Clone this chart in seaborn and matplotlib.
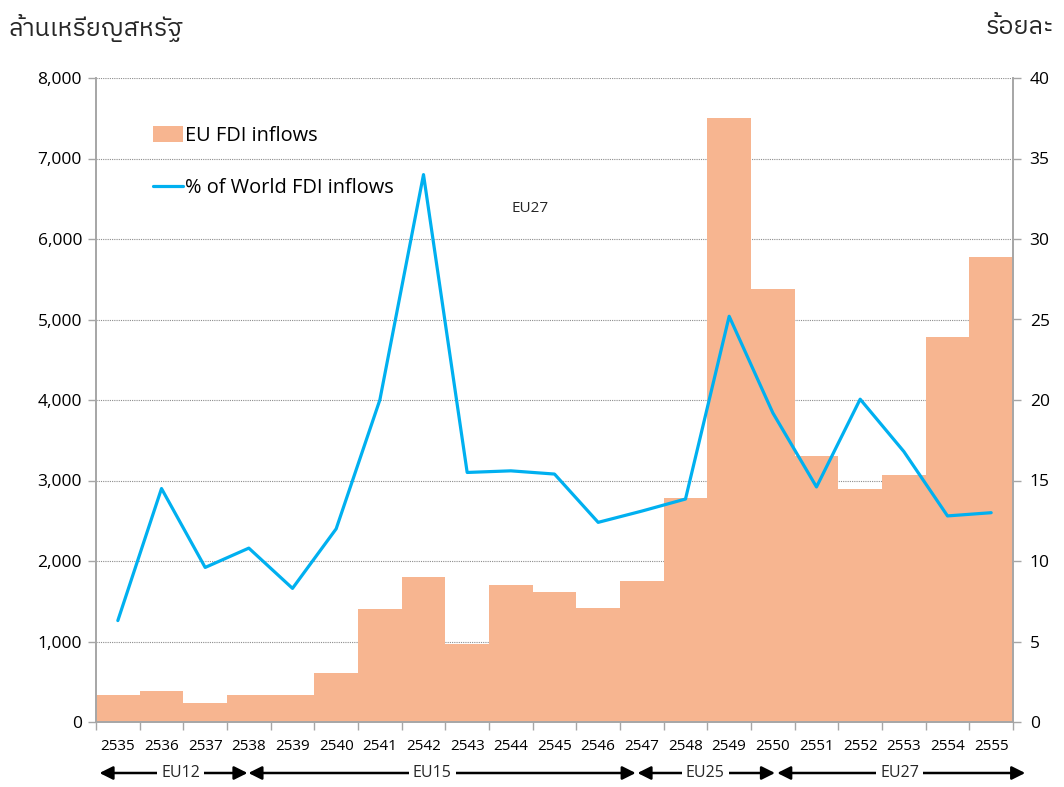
import numpy as np
import pandas as pd
import matplotlib
matplotlib.use("Agg")
import matplotlib.pyplot as plt
import matplotlib.transforms as mtransforms
from matplotlib import font_manager
from matplotlib.ft2font import FT2Font
import seaborn as sns

# ---------------- data ----------------
years = ["2535", "2536", "2537", "2538", "2539", "2540", "2541", "2542", "2543", "2544",
         "2545", "2546", "2547", "2548", "2549", "2550", "2551", "2552", "2553", "2554", "2555"]
eu_fdi_inflows = [340, 385, 230, 330, 330, 610, 1400, 1800, 970, 1700,
                  1610, 1420, 1750, 2780, 7500, 5380, 3300, 2900, 3070, 4780, 5780]
pct_world_fdi = [6.3, 14.5, 9.6, 10.8, 8.3, 12.0, 20.0, 34.0, 15.5, 15.6,
                 15.4, 12.4, 13.1, 13.85, 25.2, 19.2, 14.6, 20.05, 16.8, 12.8, 13.0]
left_ticks = [0, 1000, 2000, 3000, 4000, 5000, 6000, 7000, 8000]
right_ticks = [0, 5, 10, 15, 20, 25, 30, 35, 40]
eras = ["EU12", "EU15", "EU25", "EU27"]
left_label = "ล้านเหรียญสหรัฐ"
right_label = "ร้อยละ"
bar_label = "EU FDI inflows"
line_label = "% of World FDI inflows"

BAR_COLOR = "#F7B590"
LINE_COLOR = "#00B0F0"
AXIS_GRAY = "#A6A6A6"


def find_thai_font():
    best = None
    for f in font_manager.fontManager.ttflist:
        try:
            ft = FT2Font(f.fname)
            if ft.get_char_index(0x0E25) and ft.get_char_index(0x0E49):
                if "Thai" in f.name and ("Sans" in f.name or "Looped" not in f.name):
                    return f.name
                if best is None:
                    best = f.name
        except Exception:
            pass
    return best


sns.set_theme(style="white")
base = "Open Sans"
thai = find_thai_font()
fam = [base, "DejaVu Sans"]
thai_fam = ([thai] if thai else []) + [base, "DejaVu Sans"]
plt.rcParams["font.family"] = fam

df = pd.DataFrame({"year": years, "fdi": eu_fdi_inflows, "pct": pct_world_fdi})
df["pos"] = np.arange(len(years))

fig = plt.figure(figsize=(10.64, 7.87), dpi=100)
ax = fig.add_axes([96 / 1064, 1 - 722 / 787, (1013 - 96) / 1064, (722 - 78) / 787])

sns.barplot(data=df, x="year", y="fdi", color=BAR_COLOR, width=1.0, saturation=1,
            linewidth=0, ax=ax, label=bar_label)
if ax.get_legend() is not None:
    ax.get_legend().remove()
ax.set_xlim(-0.5, len(years) - 0.5)
ax.set_ylim(0, 8000)
ax.set_yticks(left_ticks)
ax.set_yticklabels([f"{v:,}" for v in left_ticks], fontsize=12.5, color="#000000")
ax.set_axisbelow(True)
ax.yaxis.grid(True, linestyle=(0, (1, 1)), color="#8C8C8C", linewidth=0.8)
ax.xaxis.grid(False)
ax.set_xlabel("")
ax.set_ylabel("")

ax2 = ax.twinx()
sns.lineplot(data=df, x="pos", y="pct", color=LINE_COLOR, linewidth=2.3, ax=ax2,
             label=line_label, legend=False)
ax2.set_xlim(-0.5, len(years) - 0.5)
ax2.set_ylim(0, 40)
ax2.set_yticks(right_ticks)
ax2.set_yticklabels([str(v) for v in right_ticks], fontsize=12.5, color="#000000")
ax2.set_ylabel("")
ax2.set_xlabel("")
ax2.grid(False)

for a in (ax, ax2):
    a.spines["top"].set_visible(False)
    for s in ["left", "right", "bottom"]:
        a.spines[s].set_color(AXIS_GRAY)
        a.spines[s].set_linewidth(1.2)

ax.tick_params(axis="y", which="major", direction="out", length=6, width=1, color=AXIS_GRAY, pad=4, left=True)
ax2.tick_params(axis="y", which="major", direction="out", length=6, width=1, color=AXIS_GRAY, pad=6, right=True)

# x ticks: labels at centers, tick marks at boundaries
ax.set_xticks(np.arange(len(years)))
ax.set_xticklabels(years, fontsize=11, color="#000000")
ax.tick_params(axis="x", which="major", length=0, pad=12)
ax.set_xticks(np.arange(len(years) + 1) - 0.5, minor=True)
ax.tick_params(axis="x", which="minor", direction="out", length=6, width=1, color=AXIS_GRAY, bottom=True)
ax2.tick_params(axis="x", which="both", length=0, labelbottom=False)

# legend
h1, _ = ax.get_legend_handles_labels()
h2, _ = ax2.get_legend_handles_labels()
leg = ax2.legend(h1[:1] + h2[:1], [bar_label, line_label], loc="upper left",
                 bbox_to_anchor=(153 / 1064, 1 - 126 / 787), bbox_transform=fig.transFigure,
                 frameon=False, fontsize=14.4, handlelength=1.5, handleheight=0.8,
                 handletextpad=0.1, labelspacing=1.6, borderpad=0, borderaxespad=0)
for t in leg.get_texts():
    t.set_color("#000000")

# EU27 note
ax2.text(9.44, 31.9, "EU27", fontsize=11, color="#262626", ha="center", va="center")

# era arrows under the axis
trans = mtransforms.blended_transform_factory(ax.transData, ax.transAxes)
era_spans = [(-0.42, 2.97), (2.99, 11.86), (11.9, 15.05), (15.1, 20.78)]
era_label_x = [1.44, 7.2, 13.45, 17.9]
y_arrow = (722 - 773) / (722 - 78)
for (x0, x1), lx, name in zip(era_spans, era_label_x, eras):
    ax.annotate("", xy=(x0, y_arrow), xytext=(x1, y_arrow), xycoords=trans, textcoords=trans,
                arrowprops=dict(arrowstyle="<|-|>", color="black", lw=1.8,
                                mutation_scale=20, shrinkA=0, shrinkB=0),
                annotation_clip=False)
    ax.text(lx, y_arrow, name, transform=trans, fontsize=11.5, ha="center", va="center",
            color="#262626", clip_on=False,
            bbox=dict(boxstyle="square,pad=0.25", fc="white", ec="none"))

# axis unit labels
fig.text(8 / 1064, 1 - 28 / 787, left_label, fontsize=18, family=thai_fam,
         ha="left", va="center", color="#262626")
fig.text(1054 / 1064, 1 - 28 / 787, right_label, fontsize=18, family=thai_fam,
         ha="right", va="center", color="#262626")

fig.savefig("out.png", dpi=100, facecolor="white")
